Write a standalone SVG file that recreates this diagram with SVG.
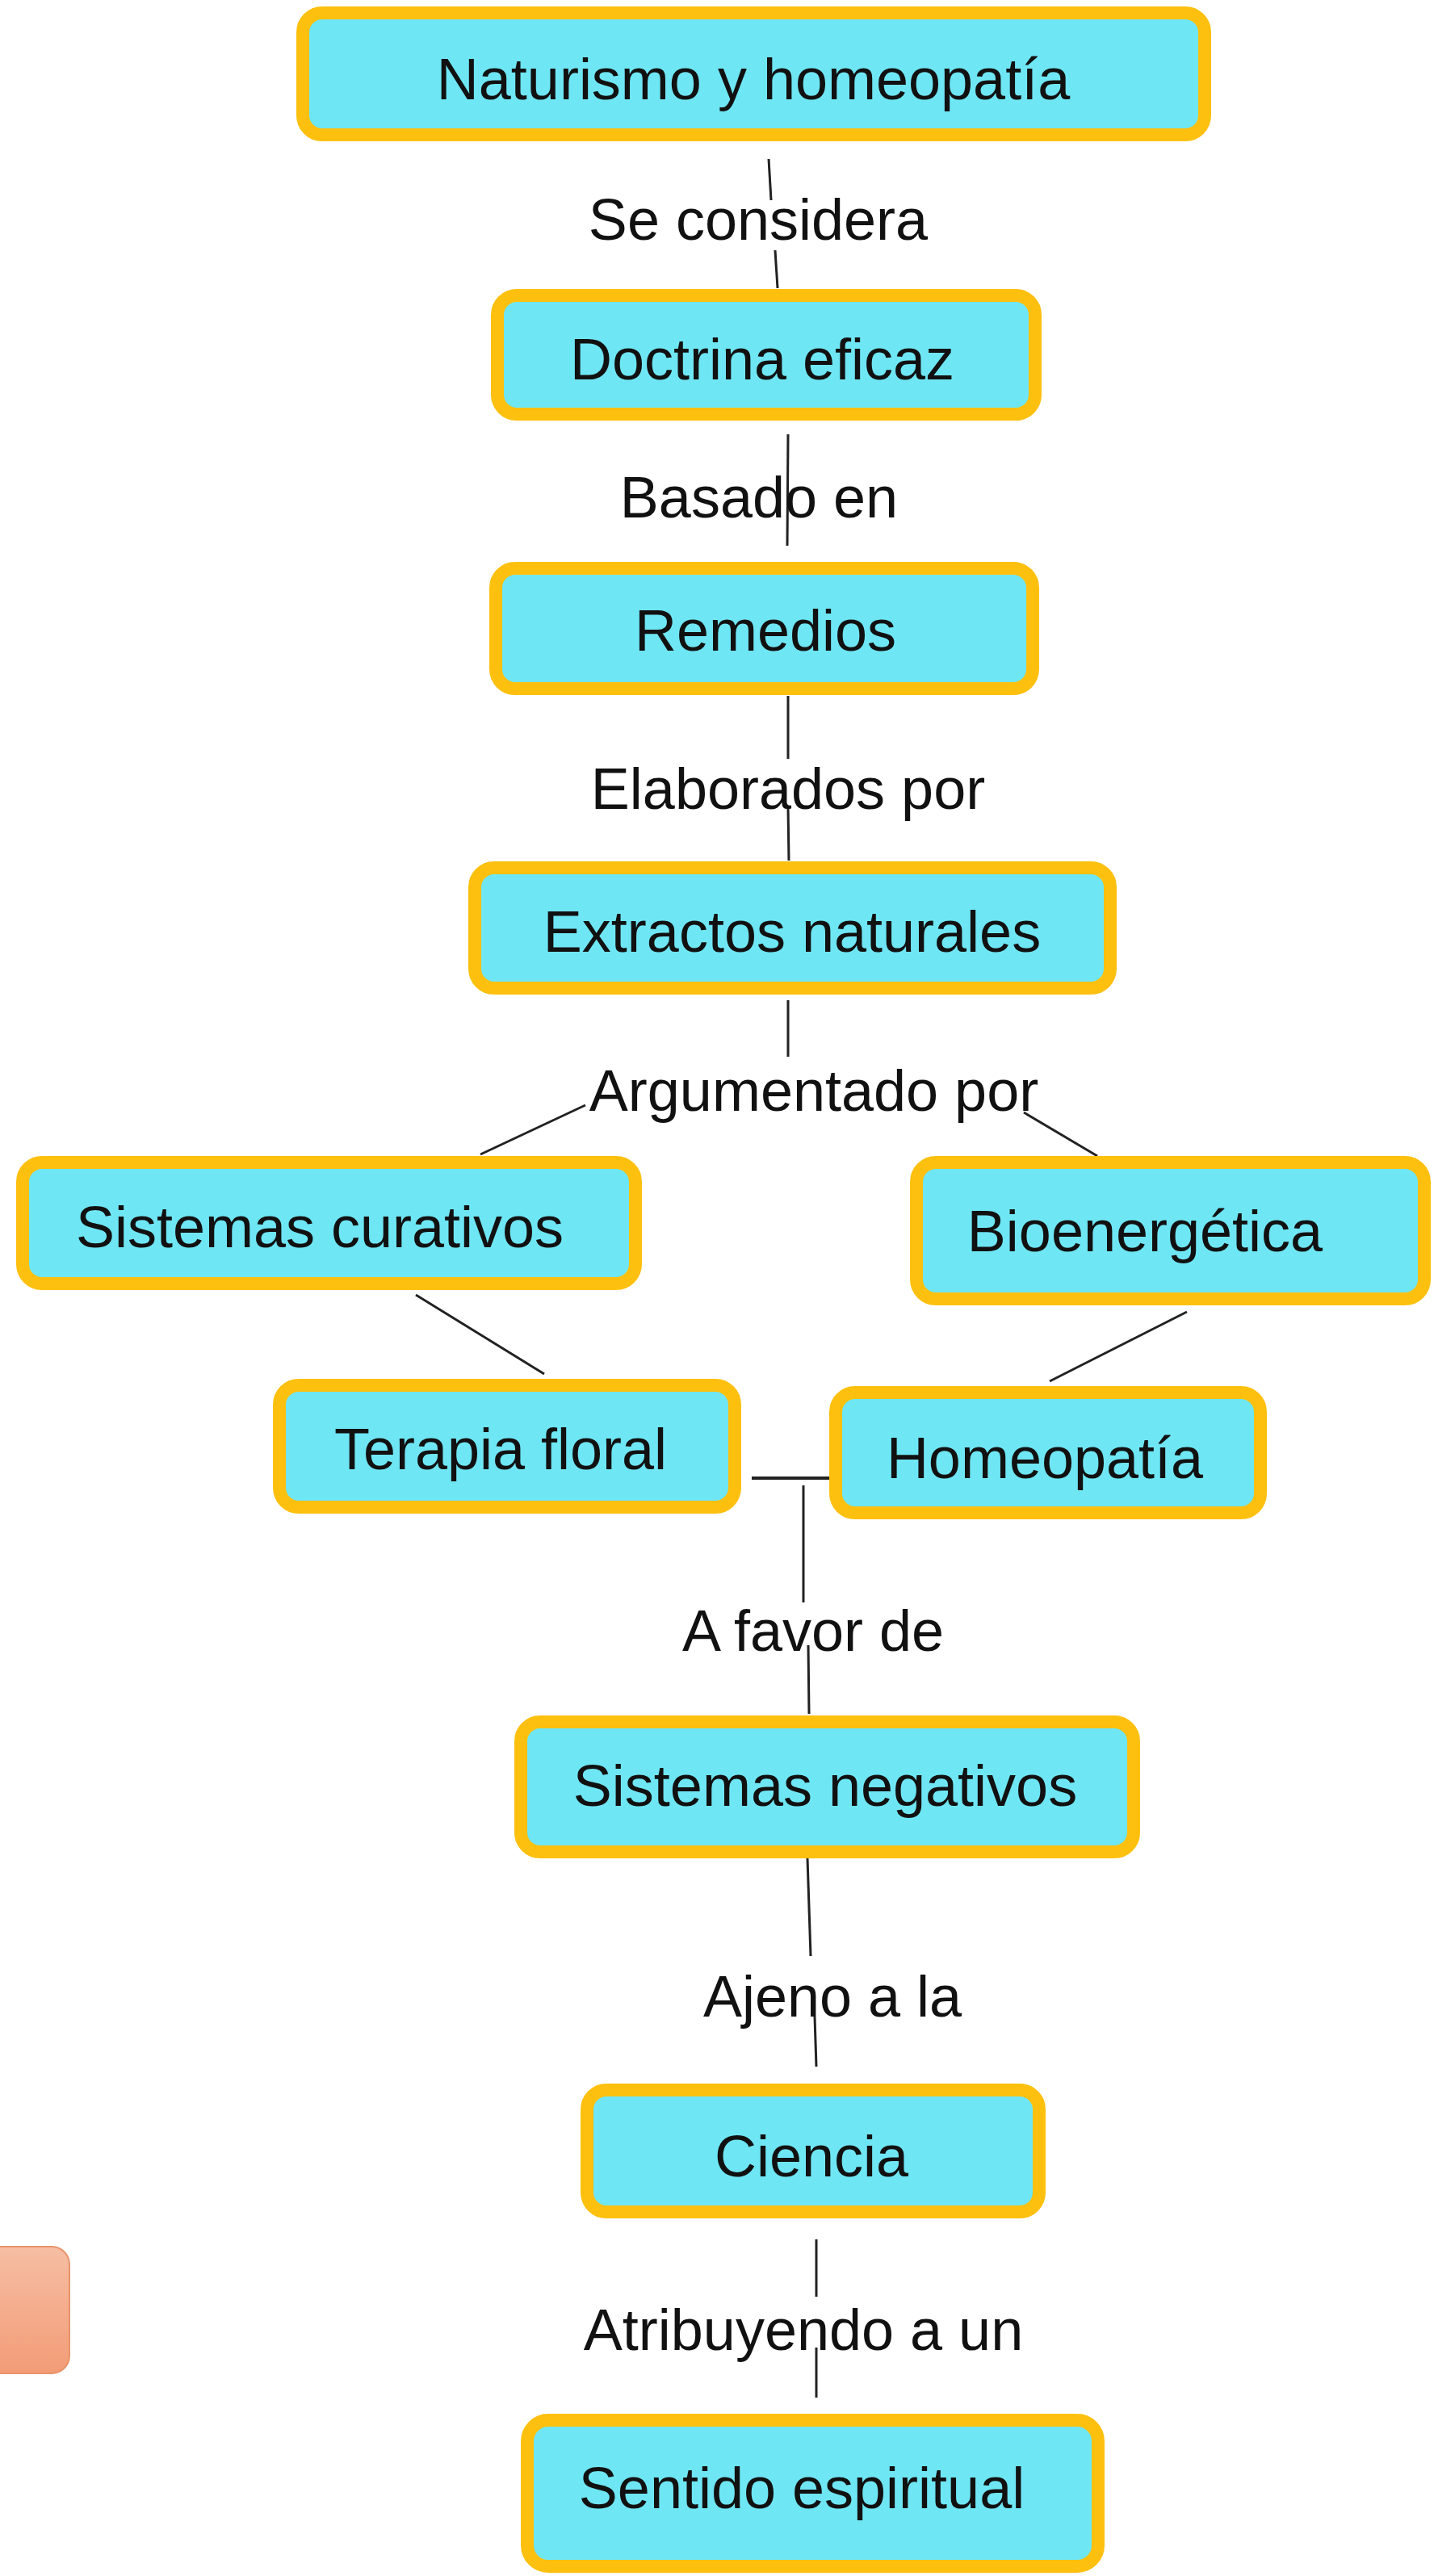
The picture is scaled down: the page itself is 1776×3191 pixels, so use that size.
<svg xmlns="http://www.w3.org/2000/svg" width="1776" height="3191" viewBox="0 0 1776 3191">
<style>
.node rect{fill:#6FE6F4;stroke:#FDC00F;stroke-width:16}
.t{font-family:"Liberation Sans",Arial,sans-serif;font-size:72px;fill:#111;text-anchor:middle}
.c line{stroke:#222;stroke-width:3;stroke-linecap:butt}
</style>
<defs>
<linearGradient id="sal" x1="0" y1="0" x2="0" y2="1">
<stop offset="0" stop-color="#F6BEA3"/>
<stop offset="1" stop-color="#F39C77"/>
</linearGradient>
</defs>
<rect width="1776" height="3191" fill="#fff"/>
<g id="connectors" class="c">
<line x1="952" y1="197" x2="955" y2="248"/>
<line x1="960" y1="310" x2="963" y2="357"/>
<line x1="976" y1="538" x2="975" y2="676"/>
<line x1="976" y1="862" x2="976" y2="940"/>
<line x1="976" y1="1000" x2="977" y2="1066"/>
<line x1="976" y1="1239" x2="976" y2="1309"/>
<line x1="725" y1="1369" x2="595" y2="1430"/>
<line x1="1268" y1="1378" x2="1359" y2="1432"/>
<line x1="515" y1="1604" x2="674" y2="1702"/>
<line x1="1470" y1="1625" x2="1300" y2="1711"/>
<line x1="931" y1="1831" x2="1035" y2="1831" style="stroke-width:4"/>
<line x1="995" y1="1840" x2="995" y2="1985"/>
<line x1="1001" y1="2038" x2="1002" y2="2123"/>
<line x1="1000" y1="2302" x2="1004" y2="2423"/>
<line x1="1009" y1="2498" x2="1011" y2="2560"/>
<line x1="1011" y1="2774" x2="1011" y2="2845"/>
<line x1="1011" y1="2908" x2="1011" y2="2970"/>
</g>
<g id="labels">
<text class="t" x="939" y="297">Se considera</text>
<text class="t" x="940" y="641">Basado en</text>
<text class="t" x="976" y="1002">Elaborados por</text>
<text class="t" x="1008" y="1376">Argumentado por</text>
<text class="t" x="1007" y="2045">A favor de</text>
<text class="t" x="1031" y="2498">Ajeno a la</text>
<text class="t" x="995" y="2911">Atribuyendo a un</text>
</g>
<g id="n1" class="node"><rect x="375" y="16" width="1117" height="151" rx="24"/><text class="t" x="933" y="123">Naturismo y homeopatía</text></g>
<g id="n2" class="node"><rect x="616" y="366" width="666" height="147" rx="24"/><text class="t" x="944" y="470">Doctrina eficaz</text></g>
<g id="n3" class="node"><rect x="614" y="704" width="665" height="149" rx="24"/><text class="t" x="948" y="806">Remedios</text></g>
<g id="n4" class="node"><rect x="588" y="1075" width="787" height="149" rx="24"/><text class="t" x="981" y="1179">Extractos naturales</text></g>
<g id="n5" class="node"><rect x="28" y="1440" width="759" height="150" rx="24"/><text class="t" x="396" y="1545">Sistemas curativos</text></g>
<g id="n6" class="node"><rect x="1135" y="1440" width="629" height="169" rx="24"/><text class="t" x="1418" y="1550">Bioenergética</text></g>
<g id="n7" class="node"><rect x="346" y="1716" width="564" height="151" rx="24"/><text class="t" x="620" y="1820">Terapia floral</text></g>
<g id="n8" class="node"><rect x="1035" y="1725" width="526" height="149" rx="24"/><text class="t" x="1294" y="1831">Homeopatía</text></g>
<g id="n9" class="node"><rect x="645" y="2133" width="759" height="161" rx="24"/><text class="t" x="1022" y="2237">Sistemas negativos</text></g>
<g id="n10" class="node"><rect x="727" y="2589" width="560" height="151" rx="24"/><text class="t" x="1005" y="2696">Ciencia</text></g>
<g id="n11" class="node"><rect x="653" y="2998" width="707" height="181" rx="26"/><text class="t" x="993" y="3107">Sentido espiritual</text></g>
<g id="n12"><rect x="-20" y="2783" width="106" height="157" rx="22" fill="url(#sal)" stroke="#E8936A" stroke-width="2"/></g>
</svg>
